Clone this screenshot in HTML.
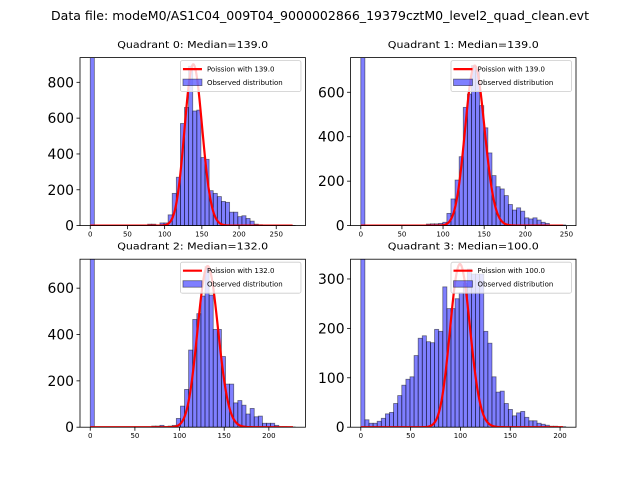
<!DOCTYPE html>
<html><head><meta charset="utf-8"><style>
html,body{margin:0;padding:0;background:#fff;}
svg{display:block;font-family:"DejaVu Sans","Liberation Sans",sans-serif;}
</style></head><body>
<svg id="chart" width="640" height="480" viewBox="0 0 640 480" xmlns="http://www.w3.org/2000/svg">
<rect width="640" height="480" fill="#fff"/>
<text x="320" y="20" font-size="12" text-anchor="middle" textLength="538" lengthAdjust="spacingAndGlyphs">Data file: modeM0/AS1C04_009T04_9000002866_19379cztM0_level2_quad_clean.evt</text>
</svg>
<script>
// ---- data ----
const quadrantNames = ["Quadrant 0", "Quadrant 1", "Quadrant 2", "Quadrant 3"];
const medians = [139.0, 139.0, 132.0, 100.0];
const dataMax = [275.5, 249.2, 229.5, 205.7];
const yMaxes = [938, 756, 725, 340];
const poissonPeaks = [900, 720, 695, 330];
const xTicks0 = [0, 50, 100, 150, 200, 250];
const xTicks1 = [0, 50, 100, 150, 200, 250];
const xTicks2 = [0, 50, 100, 150, 200];
const xTicks3 = [0, 50, 100, 150, 200];
const yTicks0 = [0, 200, 400, 600, 800];
const yTicks1 = [0, 200, 400, 600];
const yTicks2 = [0, 200, 400, 600];
const yTicks3 = [0, 100, 200, 300];
const counts0 = [2000,0,0,0,0,0,0,0,0,0,0,0,0,0,8,8,3,15,15,60,180,270,570,660,890,640,645,380,370,195,180,162,135,130,75,75,50,55,40,25,8,5,3,2,2,2,1,1,1,1];
const counts1 = [2000,0,0,0,0,0,0,0,0,0,0,0,0,3,3,3,7,8,8,10,15,55,120,205,310,532,592,720,700,540,440,327,225,175,165,135,95,70,80,65,35,30,35,25,15,10,3,3,3,3];
const counts2 = [2000,0,0,0,0,0,0,0,0,0,0,0,0,0,0,5,5,8,3,5,8,38,91,163,333,465,490,566,693,570,422,422,305,186,186,105,115,95,57,81,45,48,17,17,17,8,2,2,1,1];
const counts3 = [1000,15,8,8,12,18,27,30,48,64,85,97,102,145,180,185,173,171,198,194,284,240,240,260,272,291,320,310,310,310,194,170,102,71,73,48,36,23,29,32,20,13,13,8,6,4,2,2,1,1];

const allCounts = [counts0, counts1, counts2, counts3];
const allXTicks = [xTicks0, xTicks1, xTicks2, xTicks3];
const allYTicks = [yTicks0, yTicks1, yTicks2, yTicks3];

const NS = "http://www.w3.org/2000/svg";
const svg = document.getElementById("chart");
function mk(tag, attrs, parent) {
  const e = document.createElementNS(NS, tag);
  for (const k in attrs) e.setAttribute(k, attrs[k]);
  (parent || svg).appendChild(e);
  return e;
}
const AX_W = 225.45, AX_H = 168;
const lefts = [80, 350.55, 80, 350.55];
const tops = [57.6, 57.6, 259.2, 259.2];

function poissonLog(k, lam) {
  // log pmf via Stirling-corrected lgamma
  function lgamma(z) {
    if (z < 7) { let p = 0; while (z < 7) { p -= Math.log(z); z += 1; } return p + lgamma(z); }
    return (z - 0.5) * Math.log(z) - z + 0.5 * Math.log(2 * Math.PI) + 1 / (12 * z) - 1 / (360 * z * z * z);
  }
  return k * Math.log(lam) - lam - lgamma(k + 1);
}

for (let q = 0; q < 4; q++) {
  const counts = allCounts[q];
  const L = lefts[q], T = tops[q];
  const span = dataMax[q];
  const xmin = -0.05 * span, xmax = span * 1.05;
  const xs = v => L + (v - xmin) / (xmax - xmin) * AX_W;
  const ys = v => T + AX_H - v / yMaxes[q] * AX_H;
  const g = mk("g", {});
  
  
  const clipId = "clip" + q;
  const cp = mk("clipPath", {id: clipId}, g);
  mk("rect", {x: L, y: T, width: AX_W, height: AX_H}, cp);
  const plot = mk("g", {"clip-path": "url(#" + clipId + ")"}, g);
  const bw = span / counts.length;
  counts.forEach((c, i) => {
    const x0 = xs(i * bw), x1 = xs((i + 1) * bw);
    const r = mk("rect", {x: x0, y: ys(c), width: x1 - x0, height: Math.max(0, ys(0) - ys(c)),
      fill: "rgba(0,0,255,0.5)", stroke: "rgba(0,0,0,0.5)", "stroke-width": 0.8}, plot);
    
    
  });
  // poisson curve
  const lam = medians[q];
  const peakLog = poissonLog(Math.floor(lam), lam);
  let d = "";
  const kMax = Math.floor(span * 0.99);
  for (let k = 0; k <= kMax; k++) {
    const v = poissonPeaks[q] * Math.exp(poissonLog(k, lam) - peakLog);
    d += (k ? "L" : "M") + xs(k).toFixed(2) + "," + ys(v).toFixed(2);
  }
  const path = mk("path", {d: d, fill: "none", stroke: "red", "stroke-width": 2.2, "stroke-linejoin": "round"}, plot);
  
  
  // frame
  const fr = mk("rect", {x: L, y: T, width: AX_W, height: AX_H, fill: "none", stroke: "#000", "stroke-width": 0.8}, g);
  
  
  // x ticks
  allXTicks[q].forEach(t => {
    const x = xs(t);
    mk("line", {x1: x, x2: x, y1: T + AX_H, y2: T + AX_H + 3.5, stroke: "#000", "stroke-width": 0.8}, g);
    const tx = mk("text", {x: x, y: T + AX_H + 11, "font-size": 7, "text-anchor": "middle"}, g);
    tx.textContent = t;
    
    
  });
  // y ticks
  allYTicks[q].forEach(t => {
    const y = ys(t);
    mk("line", {x1: L - 3.5, x2: L, y1: y, y2: y, stroke: "#000", "stroke-width": 0.8}, g);
    const ty = mk("text", {x: L - 6, y: y + 5, "font-size": 13.9, "text-anchor": "end"}, g);
    ty.textContent = t;
    
    
  });
  // title
  const tt = mk("text", {x: L + AX_W / 2, y: T - 9.5, "font-size": 10, "text-anchor": "middle", textLength: 151, lengthAdjust: "spacingAndGlyphs"}, g);
  tt.textContent = quadrantNames[q] + ": Median=" + medians[q].toFixed(1);
  
  
  // legend
  const lg = mk("g", {}, g);
  
  
  const bx = L + AX_W - 125, by = T + 3;
  mk("rect", {x: bx, y: by, width: 120.5, height: 31, rx: 2, fill: "rgba(255,255,255,0.8)", stroke: "#ccc", "stroke-width": 0.8}, lg);
  mk("line", {x1: bx + 2.5, x2: bx + 21.5, y1: by + 8.5, y2: by + 8.5, stroke: "red", "stroke-width": 2.2}, lg);
  mk("rect", {x: bx + 2.5, y: by + 18.5, width: 19, height: 6.5, fill: "rgba(0,0,255,0.5)", stroke: "rgba(0,0,0,0.5)", "stroke-width": 0.8}, lg);
  const l1 = mk("text", {x: bx + 26.5, y: by + 11, "font-size": 7}, lg);
  l1.textContent = "Poission with " + medians[q].toFixed(1);
  
  
  const l2 = mk("text", {x: bx + 26.5, y: by + 24.5, "font-size": 7}, lg);
  l2.textContent = "Observed distribution";
  
  
}
</script>
</body></html>
